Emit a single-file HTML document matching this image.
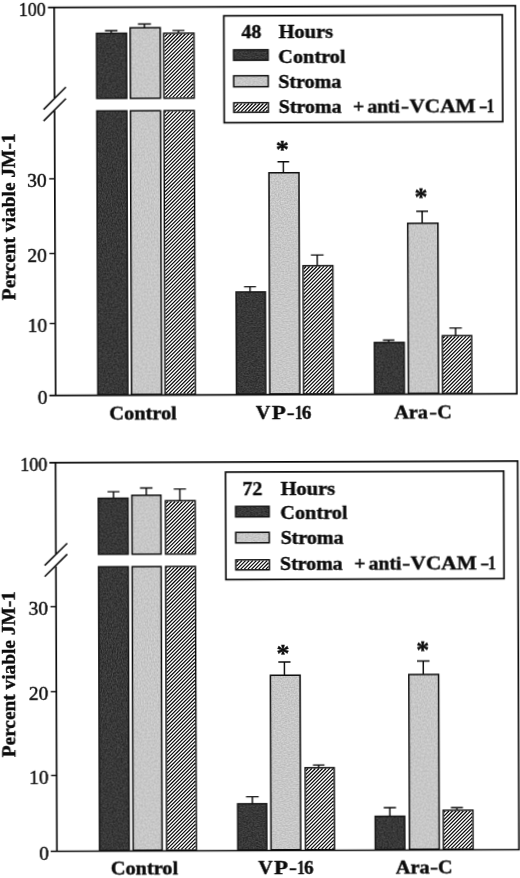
<!DOCTYPE html>
<html><head><meta charset="utf-8"><title>Percent viable JM-1</title>
<style>
html,body{margin:0;padding:0;background:#fff;}
body{width:520px;height:878px;overflow:hidden;}
svg{display:block;}
text{font-family:"Liberation Serif",serif;fill:#0c0c0c;stroke:#0c0c0c;stroke-width:0.42px;}
</style></head><body>
<svg width="520" height="878" viewBox="0 0 520 878">
<rect width="520" height="878" fill="#fff"/>
<defs>
<filter id="soft" x="-10" y="-10" width="540" height="898" filterUnits="userSpaceOnUse" color-interpolation-filters="sRGB"><feGaussianBlur stdDeviation="0.27"/></filter>
<filter id="nd" x="0" y="0" width="100%" height="100%" color-interpolation-filters="sRGB">
<feTurbulence type="fractalNoise" baseFrequency="0.8" numOctaves="2" seed="3" result="n"/>
<feColorMatrix in="n" type="matrix" values="1 0 0 0 0  1 0 0 0 0  1 0 0 0 0  0 0 0 0 1" result="g"/>
<feComposite in="SourceGraphic" in2="g" operator="arithmetic" k1="0" k2="1" k3="0.34" k4="-0.17" result="m"/>
<feComposite in="m" in2="SourceGraphic" operator="in"/>
</filter>
<filter id="nl" x="0" y="0" width="100%" height="100%" color-interpolation-filters="sRGB">
<feTurbulence type="fractalNoise" baseFrequency="0.7" numOctaves="1" seed="8" result="n"/>
<feColorMatrix in="n" type="matrix" values="1 0 0 0 0  1 0 0 0 0  1 0 0 0 0  0 0 0 0 1" result="g"/>
<feComposite in="SourceGraphic" in2="g" operator="arithmetic" k1="0" k2="1" k3="0.26" k4="-0.125" result="m"/>
<feComposite in="m" in2="SourceGraphic" operator="in"/>
</filter>
</defs>
<g transform="rotate(-0.212 285 200)"><g filter="url(#soft)">
<path d="M48.65 6.65H516.10V394.65H48.65" stroke="#0c0c0c" stroke-width="1.7" fill="none"/>
<path d="M54.85 6.65V97.20M54.85 109.60V394.65" stroke="#0c0c0c" stroke-width="1.7" fill="none"/>
<path d="M43.90 108.60L66.30 86.30" stroke="#0c0c0c" stroke-width="1.55" fill="none"/>
<path d="M43.90 120.10L66.30 97.80" stroke="#0c0c0c" stroke-width="1.55" fill="none"/>
<text x="46.60" y="14.65" font-size="18.3" stroke-width="0" text-anchor="end" textLength="27.00" lengthAdjust="spacingAndGlyphs">100</text>
<path d="M49.25 177.90H54.85" stroke="#0c0c0c" stroke-width="1.4" fill="none"/>
<text x="46.60" y="185.90" font-size="18.3" stroke-width="0" text-anchor="end" textLength="19.40" lengthAdjust="spacingAndGlyphs">30</text>
<path d="M49.25 252.60H54.85" stroke="#0c0c0c" stroke-width="1.4" fill="none"/>
<text x="46.60" y="260.60" font-size="18.3" stroke-width="0" text-anchor="end" textLength="19.40" lengthAdjust="spacingAndGlyphs">20</text>
<path d="M49.25 322.60H54.85" stroke="#0c0c0c" stroke-width="1.4" fill="none"/>
<text x="46.60" y="330.60" font-size="18.3" stroke-width="0" text-anchor="end" textLength="19.40" lengthAdjust="spacingAndGlyphs">10</text>
<text x="46.60" y="402.65" font-size="18.3" stroke-width="0" text-anchor="end" textLength="9.70" lengthAdjust="spacingAndGlyphs">0</text>
<rect x="97.15" y="32.65" width="30.00" height="65.10" fill="#383838" filter="url(#nd)"/><rect x="97.15" y="32.65" width="30.00" height="65.10" fill="none" stroke="#161616" stroke-width="1.5"/>
<rect x="97.15" y="110.25" width="30.00" height="283.65" fill="#383838" filter="url(#nd)"/><rect x="97.15" y="110.25" width="30.00" height="283.65" fill="none" stroke="#161616" stroke-width="1.5"/>
<rect x="130.75" y="27.25" width="30.10" height="70.50" fill="#c6c6c6" filter="url(#nl)"/><rect x="130.75" y="27.25" width="30.10" height="70.50" fill="none" stroke="#0c0c0c" stroke-width="1.5"/>
<rect x="130.75" y="110.25" width="30.10" height="283.65" fill="#c6c6c6" filter="url(#nl)"/><rect x="130.75" y="110.25" width="30.10" height="283.65" fill="none" stroke="#0c0c0c" stroke-width="1.5"/>
<rect x="164.35" y="32.85" width="30.20" height="64.90" fill="#fff"/><rect x="164.35" y="32.85" width="30.20" height="64.90" fill="none" stroke="#0c0c0c" stroke-width="1.5"/>
<rect x="164.35" y="110.25" width="30.20" height="283.65" fill="#fff"/><rect x="164.35" y="110.25" width="30.20" height="283.65" fill="none" stroke="#0c0c0c" stroke-width="1.5"/>
<rect x="235.75" y="291.85" width="29.30" height="102.05" fill="#383838" filter="url(#nd)"/><rect x="235.75" y="291.85" width="29.30" height="102.05" fill="none" stroke="#161616" stroke-width="1.5"/>
<rect x="269.05" y="172.75" width="30.00" height="221.15" fill="#c6c6c6" filter="url(#nl)"/><rect x="269.05" y="172.75" width="30.00" height="221.15" fill="none" stroke="#0c0c0c" stroke-width="1.5"/>
<rect x="302.85" y="265.85" width="29.70" height="128.05" fill="#fff"/><rect x="302.85" y="265.85" width="29.70" height="128.05" fill="none" stroke="#0c0c0c" stroke-width="1.5"/>
<rect x="373.85" y="342.85" width="29.80" height="51.05" fill="#383838" filter="url(#nd)"/><rect x="373.85" y="342.85" width="29.80" height="51.05" fill="none" stroke="#161616" stroke-width="1.5"/>
<rect x="407.65" y="223.75" width="30.20" height="170.15" fill="#c6c6c6" filter="url(#nl)"/><rect x="407.65" y="223.75" width="30.20" height="170.15" fill="none" stroke="#0c0c0c" stroke-width="1.5"/>
<rect x="441.85" y="336.35" width="29.30" height="57.55" fill="#fff"/><rect x="441.85" y="336.35" width="29.30" height="57.55" fill="none" stroke="#0c0c0c" stroke-width="1.5"/>
<path d="M105.60 29.90H118.10M111.85 29.90V32.40" stroke="#0c0c0c" stroke-width="1.45" fill="none"/>
<path d="M138.60 23.50H151.60M145.10 23.50V27.00" stroke="#0c0c0c" stroke-width="1.45" fill="none"/>
<path d="M173.10 30.10H185.10M179.10 30.10V32.60" stroke="#0c0c0c" stroke-width="1.45" fill="none"/>
<path d="M243.70 286.60H255.70M249.70 286.60V291.60" stroke="#0c0c0c" stroke-width="1.45" fill="none"/>
<path d="M277.60 161.70H289.30M283.45 161.70V172.50" stroke="#0c0c0c" stroke-width="1.45" fill="none"/>
<path d="M310.70 255.10H323.40M317.05 255.10V265.60" stroke="#0c0c0c" stroke-width="1.45" fill="none"/>
<path d="M382.40 340.40H393.90M388.15 340.40V342.60" stroke="#0c0c0c" stroke-width="1.45" fill="none"/>
<path d="M416.20 211.70H428.00M422.10 211.70V223.50" stroke="#0c0c0c" stroke-width="1.45" fill="none"/>
<path d="M448.90 328.60H461.40M455.15 328.60V336.10" stroke="#0c0c0c" stroke-width="1.45" fill="none"/>
<text x="282.50" y="157.70" font-size="26" font-weight="bold" text-anchor="middle" stroke-width="0">*</text>
<text x="420.90" y="206.10" font-size="26" font-weight="bold" text-anchor="middle" stroke-width="0">*</text>
<rect x="224.50" y="15.60" width="278.50" height="106.90" fill="#fff" stroke="#0c0c0c" stroke-width="1.7"/>
<rect x="234.15" y="49.65" width="34.50" height="10.50" fill="#383838" filter="url(#nd)"/><rect x="234.15" y="49.65" width="34.50" height="10.50" fill="none" stroke="#161616" stroke-width="1.5"/>
<rect x="234.15" y="75.65" width="34.50" height="11.00" fill="#c6c6c6" filter="url(#nl)"/><rect x="234.15" y="75.65" width="34.50" height="11.00" fill="none" stroke="#0c0c0c" stroke-width="1.5"/>
<rect x="234.15" y="102.65" width="34.50" height="9.50" fill="#fff"/><rect x="234.15" y="102.65" width="34.50" height="9.50" fill="none" stroke="#0c0c0c" stroke-width="1.5"/>
<text x="242.00" y="38.00" font-size="19.4" font-weight="bold" text-anchor="start" textLength="20.00" lengthAdjust="spacingAndGlyphs">48</text>
<text x="279.20" y="38.00" font-size="19.4" font-weight="bold" text-anchor="start" textLength="54.50" lengthAdjust="spacingAndGlyphs">Hours</text>
<text x="278.80" y="62.90" font-size="19.4" font-weight="bold" text-anchor="start" textLength="67.30" lengthAdjust="spacingAndGlyphs">Control</text>
<text x="278.70" y="88.20" font-size="19.4" font-weight="bold" text-anchor="start" textLength="63.20" lengthAdjust="spacingAndGlyphs">Stroma</text>
<text x="279.10" y="113.30" font-size="19.4" font-weight="bold" text-anchor="start" textLength="62.80" lengthAdjust="spacingAndGlyphs">Stroma</text>
<text x="353.20" y="113.30" font-size="19.4" font-weight="bold" text-anchor="start" textLength="11.40" lengthAdjust="spacingAndGlyphs">+</text>
<text x="367.70" y="113.30" font-size="19.4" font-weight="bold" text-anchor="start" textLength="32.60" lengthAdjust="spacingAndGlyphs">anti</text>
<text x="401.20" y="113.30" font-size="19.4" font-weight="bold" text-anchor="start" textLength="8.10" lengthAdjust="spacingAndGlyphs">-</text>
<text x="409.70" y="113.30" font-size="19.4" font-weight="bold" text-anchor="start" textLength="66.20" lengthAdjust="spacingAndGlyphs">VCAM</text>
<text x="479.30" y="113.30" font-size="19.4" font-weight="bold" text-anchor="start" textLength="8.66" lengthAdjust="spacingAndGlyphs">-</text>
<text x="487.10" y="113.30" font-size="19.4" font-weight="bold" text-anchor="start" textLength="7.60" lengthAdjust="spacingAndGlyphs">1</text>
<text x="108.60" y="419.30" font-size="19.4" font-weight="bold" text-anchor="start" textLength="67.40" lengthAdjust="spacingAndGlyphs">Control</text>
<text x="255.10" y="419.30" font-size="19.4" font-weight="bold" text-anchor="start" textLength="14.44" lengthAdjust="spacingAndGlyphs">V</text>
<text x="270.90" y="419.30" font-size="19.4" font-weight="bold" text-anchor="start" textLength="14.00" lengthAdjust="spacingAndGlyphs">P</text>
<text x="286.00" y="419.30" font-size="19.4" font-weight="bold" text-anchor="start" textLength="7.80" lengthAdjust="spacingAndGlyphs">-</text>
<text x="294.30" y="419.30" font-size="19.4" font-weight="bold" text-anchor="start" textLength="7.40" lengthAdjust="spacingAndGlyphs">1</text>
<text x="300.90" y="419.30" font-size="19.4" font-weight="bold" text-anchor="start" textLength="9.60" lengthAdjust="spacingAndGlyphs">6</text>
<text x="393.40" y="419.30" font-size="19.4" font-weight="bold" text-anchor="start" textLength="33.60" lengthAdjust="spacingAndGlyphs">Ara</text>
<text x="428.60" y="419.30" font-size="19.4" font-weight="bold" text-anchor="start" textLength="7.60" lengthAdjust="spacingAndGlyphs">-</text>
<text x="436.60" y="419.30" font-size="19.4" font-weight="bold" text-anchor="start" textLength="14.44" lengthAdjust="spacingAndGlyphs">C</text>
<text transform="translate(14.50 215.80) rotate(-90)" font-size="19.4" font-weight="bold" text-anchor="middle" textLength="166.7" lengthAdjust="spacingAndGlyphs">Percent viable JM-1</text>
</g>
<path d="M165.10 36.50L168.00 33.60M165.10 40.10L171.60 33.60M165.10 43.70L175.20 33.60M165.10 47.30L178.80 33.60M165.10 50.90L182.40 33.60M165.10 54.50L186.00 33.60M165.10 58.10L189.60 33.60M165.10 61.70L193.20 33.60M165.10 65.30L193.80 36.60M165.10 68.90L193.80 40.20M165.10 72.50L193.80 43.80M165.10 76.10L193.80 47.40M165.10 79.70L193.80 51.00M165.10 83.30L193.80 54.60M165.10 86.90L193.80 58.20M165.10 90.50L193.80 61.80M165.10 94.10L193.80 65.40M165.80 97.00L193.80 69.00M169.40 97.00L193.80 72.60M173.00 97.00L193.80 76.20M176.60 97.00L193.80 79.80M180.20 97.00L193.80 83.40M183.80 97.00L193.80 87.00M187.40 97.00L193.80 90.60M191.00 97.00L193.80 94.20" stroke="#080808" stroke-width="1.17" fill="none"/>
<path d="M165.10 112.10L166.20 111.00M165.10 115.70L169.80 111.00M165.10 119.30L173.40 111.00M165.10 122.90L177.00 111.00M165.10 126.50L180.60 111.00M165.10 130.10L184.20 111.00M165.10 133.70L187.80 111.00M165.10 137.30L191.40 111.00M165.10 140.90L193.80 112.20M165.10 144.50L193.80 115.80M165.10 148.10L193.80 119.40M165.10 151.70L193.80 123.00M165.10 155.30L193.80 126.60M165.10 158.90L193.80 130.20M165.10 162.50L193.80 133.80M165.10 166.10L193.80 137.40M165.10 169.70L193.80 141.00M165.10 173.30L193.80 144.60M165.10 176.90L193.80 148.20M165.10 180.50L193.80 151.80M165.10 184.10L193.80 155.40M165.10 187.70L193.80 159.00M165.10 191.30L193.80 162.60M165.10 194.90L193.80 166.20M165.10 198.50L193.80 169.80M165.10 202.10L193.80 173.40M165.10 205.70L193.80 177.00M165.10 209.30L193.80 180.60M165.10 212.90L193.80 184.20M165.10 216.50L193.80 187.80M165.10 220.10L193.80 191.40M165.10 223.70L193.80 195.00M165.10 227.30L193.80 198.60M165.10 230.90L193.80 202.20M165.10 234.50L193.80 205.80M165.10 238.10L193.80 209.40M165.10 241.70L193.80 213.00M165.10 245.30L193.80 216.60M165.10 248.90L193.80 220.20M165.10 252.50L193.80 223.80M165.10 256.10L193.80 227.40M165.10 259.70L193.80 231.00M165.10 263.30L193.80 234.60M165.10 266.90L193.80 238.20M165.10 270.50L193.80 241.80M165.10 274.10L193.80 245.40M165.10 277.70L193.80 249.00M165.10 281.30L193.80 252.60M165.10 284.90L193.80 256.20M165.10 288.50L193.80 259.80M165.10 292.10L193.80 263.40M165.10 295.70L193.80 267.00M165.10 299.30L193.80 270.60M165.10 302.90L193.80 274.20M165.10 306.50L193.80 277.80M165.10 310.10L193.80 281.40M165.10 313.70L193.80 285.00M165.10 317.30L193.80 288.60M165.10 320.90L193.80 292.20M165.10 324.50L193.80 295.80M165.10 328.10L193.80 299.40M165.10 331.70L193.80 303.00M165.10 335.30L193.80 306.60M165.10 338.90L193.80 310.20M165.10 342.50L193.80 313.80M165.10 346.10L193.80 317.40M165.10 349.70L193.80 321.00M165.10 353.30L193.80 324.60M165.10 356.90L193.80 328.20M165.10 360.50L193.80 331.80M165.10 364.10L193.80 335.40M165.10 367.70L193.80 339.00M165.10 371.30L193.80 342.60M165.10 374.90L193.80 346.20M165.10 378.50L193.80 349.80M165.10 382.10L193.80 353.40M165.10 385.70L193.80 357.00M165.10 389.30L193.80 360.60M165.10 392.90L193.80 364.20M168.45 393.15L193.80 367.80M172.05 393.15L193.80 371.40M175.65 393.15L193.80 375.00M179.25 393.15L193.80 378.60M182.85 393.15L193.80 382.20M186.45 393.15L193.80 385.80M190.05 393.15L193.80 389.40M193.65 393.15L193.80 393.00" stroke="#080808" stroke-width="1.17" fill="none"/>
<path d="M303.60 268.80L305.80 266.60M303.60 272.40L309.40 266.60M303.60 276.00L313.00 266.60M303.60 279.60L316.60 266.60M303.60 283.20L320.20 266.60M303.60 286.80L323.80 266.60M303.60 290.40L327.40 266.60M303.60 294.00L331.00 266.60M303.60 297.60L331.80 269.40M303.60 301.20L331.80 273.00M303.60 304.80L331.80 276.60M303.60 308.40L331.80 280.20M303.60 312.00L331.80 283.80M303.60 315.60L331.80 287.40M303.60 319.20L331.80 291.00M303.60 322.80L331.80 294.60M303.60 326.40L331.80 298.20M303.60 330.00L331.80 301.80M303.60 333.60L331.80 305.40M303.60 337.20L331.80 309.00M303.60 340.80L331.80 312.60M303.60 344.40L331.80 316.20M303.60 348.00L331.80 319.80M303.60 351.60L331.80 323.40M303.60 355.20L331.80 327.00M303.60 358.80L331.80 330.60M303.60 362.40L331.80 334.20M303.60 366.00L331.80 337.80M303.60 369.60L331.80 341.40M303.60 373.20L331.80 345.00M303.60 376.80L331.80 348.60M303.60 380.40L331.80 352.20M303.60 384.00L331.80 355.80M303.60 387.60L331.80 359.40M303.60 391.20L331.80 363.00M305.25 393.15L331.80 366.60M308.85 393.15L331.80 370.20M312.45 393.15L331.80 373.80M316.05 393.15L331.80 377.40M319.65 393.15L331.80 381.00M323.25 393.15L331.80 384.60M326.85 393.15L331.80 388.20M330.45 393.15L331.80 391.80" stroke="#080808" stroke-width="1.17" fill="none"/>
<path d="M442.60 338.60L444.10 337.10M442.60 342.20L447.70 337.10M442.60 345.80L451.30 337.10M442.60 349.40L454.90 337.10M442.60 353.00L458.50 337.10M442.60 356.60L462.10 337.10M442.60 360.20L465.70 337.10M442.60 363.80L469.30 337.10M442.60 367.40L470.40 339.60M442.60 371.00L470.40 343.20M442.60 374.60L470.40 346.80M442.60 378.20L470.40 350.40M442.60 381.80L470.40 354.00M442.60 385.40L470.40 357.60M442.60 389.00L470.40 361.20M442.60 392.60L470.40 364.80M445.65 393.15L470.40 368.40M449.25 393.15L470.40 372.00M452.85 393.15L470.40 375.60M456.45 393.15L470.40 379.20M460.05 393.15L470.40 382.80M463.65 393.15L470.40 386.40M467.25 393.15L470.40 390.00" stroke="#080808" stroke-width="1.17" fill="none"/>
<path d="M234.90 103.50L235.00 103.40M234.90 107.10L238.60 103.40M234.90 110.70L242.20 103.40M237.80 111.40L245.80 103.40M241.40 111.40L249.40 103.40M245.00 111.40L253.00 103.40M248.60 111.40L256.60 103.40M252.20 111.40L260.20 103.40M255.80 111.40L263.80 103.40M259.40 111.40L267.40 103.40M263.00 111.40L267.90 106.50M266.60 111.40L267.90 110.10" stroke="#080808" stroke-width="1.17" fill="none"/>
</g>
<g transform="rotate(-0.2 287 656)"><g filter="url(#soft)">
<path d="M50.05 461.85H518.35V850.50H50.05" stroke="#0c0c0c" stroke-width="1.7" fill="none"/>
<path d="M56.25 461.85V553.40M56.25 565.40V850.50" stroke="#0c0c0c" stroke-width="1.7" fill="none"/>
<path d="M45.00 564.60L67.60 542.50" stroke="#0c0c0c" stroke-width="1.55" fill="none"/>
<path d="M45.00 575.80L67.60 553.40" stroke="#0c0c0c" stroke-width="1.55" fill="none"/>
<text x="48.10" y="469.85" font-size="18.3" stroke-width="0" text-anchor="end" textLength="27.00" lengthAdjust="spacingAndGlyphs">100</text>
<path d="M50.65 605.80H56.25" stroke="#0c0c0c" stroke-width="1.4" fill="none"/>
<text x="48.10" y="613.80" font-size="18.3" stroke-width="0" text-anchor="end" textLength="19.40" lengthAdjust="spacingAndGlyphs">30</text>
<path d="M50.65 690.80H56.25" stroke="#0c0c0c" stroke-width="1.4" fill="none"/>
<text x="48.10" y="698.80" font-size="18.3" stroke-width="0" text-anchor="end" textLength="19.40" lengthAdjust="spacingAndGlyphs">20</text>
<path d="M50.65 774.60H56.25" stroke="#0c0c0c" stroke-width="1.4" fill="none"/>
<text x="48.10" y="782.60" font-size="18.3" stroke-width="0" text-anchor="end" textLength="19.40" lengthAdjust="spacingAndGlyphs">10</text>
<text x="48.10" y="858.50" font-size="18.3" stroke-width="0" text-anchor="end" textLength="9.70" lengthAdjust="spacingAndGlyphs">0</text>
<rect x="98.85" y="497.65" width="29.70" height="56.00" fill="#383838" filter="url(#nd)"/><rect x="98.85" y="497.65" width="29.70" height="56.00" fill="none" stroke="#161616" stroke-width="1.5"/>
<rect x="98.85" y="566.15" width="29.70" height="283.60" fill="#383838" filter="url(#nd)"/><rect x="98.85" y="566.15" width="29.70" height="283.60" fill="none" stroke="#161616" stroke-width="1.5"/>
<rect x="132.45" y="494.75" width="29.00" height="58.90" fill="#c6c6c6" filter="url(#nl)"/><rect x="132.45" y="494.75" width="29.00" height="58.90" fill="none" stroke="#0c0c0c" stroke-width="1.5"/>
<rect x="132.45" y="566.15" width="29.00" height="283.60" fill="#c6c6c6" filter="url(#nl)"/><rect x="132.45" y="566.15" width="29.00" height="283.60" fill="none" stroke="#0c0c0c" stroke-width="1.5"/>
<rect x="165.95" y="500.35" width="29.70" height="53.30" fill="#fff"/><rect x="165.95" y="500.35" width="29.70" height="53.30" fill="none" stroke="#0c0c0c" stroke-width="1.5"/>
<rect x="165.95" y="566.15" width="29.70" height="283.60" fill="#fff"/><rect x="165.95" y="566.15" width="29.70" height="283.60" fill="none" stroke="#0c0c0c" stroke-width="1.5"/>
<rect x="237.15" y="803.65" width="29.00" height="46.10" fill="#383838" filter="url(#nd)"/><rect x="237.15" y="803.65" width="29.00" height="46.10" fill="none" stroke="#161616" stroke-width="1.5"/>
<rect x="270.35" y="675.25" width="29.70" height="174.50" fill="#c6c6c6" filter="url(#nl)"/><rect x="270.35" y="675.25" width="29.70" height="174.50" fill="none" stroke="#0c0c0c" stroke-width="1.5"/>
<rect x="304.75" y="767.85" width="29.00" height="81.90" fill="#fff"/><rect x="304.75" y="767.85" width="29.00" height="81.90" fill="none" stroke="#0c0c0c" stroke-width="1.5"/>
<rect x="374.65" y="816.65" width="29.50" height="33.10" fill="#383838" filter="url(#nd)"/><rect x="374.65" y="816.65" width="29.50" height="33.10" fill="none" stroke="#161616" stroke-width="1.5"/>
<rect x="408.75" y="674.95" width="29.80" height="174.80" fill="#c6c6c6" filter="url(#nl)"/><rect x="408.75" y="674.95" width="29.80" height="174.80" fill="none" stroke="#0c0c0c" stroke-width="1.5"/>
<rect x="442.65" y="810.85" width="29.70" height="38.90" fill="#fff"/><rect x="442.65" y="810.85" width="29.70" height="38.90" fill="none" stroke="#0c0c0c" stroke-width="1.5"/>
<path d="M108.10 491.10H120.10M114.10 491.10V497.40" stroke="#0c0c0c" stroke-width="1.45" fill="none"/>
<path d="M140.60 487.50H153.10M146.85 487.50V494.50" stroke="#0c0c0c" stroke-width="1.45" fill="none"/>
<path d="M174.30 488.60H186.60M180.45 488.60V500.10" stroke="#0c0c0c" stroke-width="1.45" fill="none"/>
<path d="M245.50 796.60H258.20M251.85 796.60V803.40" stroke="#0c0c0c" stroke-width="1.45" fill="none"/>
<path d="M278.30 662.00H290.50M284.40 662.00V675.00" stroke="#0c0c0c" stroke-width="1.45" fill="none"/>
<path d="M312.60 765.10H324.10M318.35 765.10V767.60" stroke="#0c0c0c" stroke-width="1.45" fill="none"/>
<path d="M383.20 807.90H395.50M389.35 807.90V816.40" stroke="#0c0c0c" stroke-width="1.45" fill="none"/>
<path d="M417.00 661.50H429.50M423.25 661.50V674.70" stroke="#0c0c0c" stroke-width="1.45" fill="none"/>
<path d="M450.40 808.30H462.40M456.40 808.30V810.60" stroke="#0c0c0c" stroke-width="1.45" fill="none"/>
<text x="283.10" y="661.60" font-size="26" font-weight="bold" text-anchor="middle" stroke-width="0">*</text>
<text x="422.80" y="659.40" font-size="26" font-weight="bold" text-anchor="middle" stroke-width="0">*</text>
<rect x="226.20" y="471.90" width="278.10" height="107.50" fill="#fff" stroke="#0c0c0c" stroke-width="1.7"/>
<rect x="236.15" y="506.25" width="33.50" height="10.50" fill="#383838" filter="url(#nd)"/><rect x="236.15" y="506.25" width="33.50" height="10.50" fill="none" stroke="#161616" stroke-width="1.5"/>
<rect x="236.15" y="532.25" width="33.50" height="10.50" fill="#c6c6c6" filter="url(#nl)"/><rect x="236.15" y="532.25" width="33.50" height="10.50" fill="none" stroke="#0c0c0c" stroke-width="1.5"/>
<rect x="236.15" y="559.75" width="33.50" height="10.00" fill="#fff"/><rect x="236.15" y="559.75" width="33.50" height="10.00" fill="none" stroke="#0c0c0c" stroke-width="1.5"/>
<text x="242.90" y="495.00" font-size="19.4" font-weight="bold" text-anchor="start" textLength="20.00" lengthAdjust="spacingAndGlyphs">72</text>
<text x="281.20" y="495.00" font-size="19.4" font-weight="bold" text-anchor="start" textLength="54.50" lengthAdjust="spacingAndGlyphs">Hours</text>
<text x="280.80" y="519.00" font-size="19.4" font-weight="bold" text-anchor="start" textLength="67.30" lengthAdjust="spacingAndGlyphs">Control</text>
<text x="280.90" y="544.50" font-size="19.4" font-weight="bold" text-anchor="start" textLength="63.20" lengthAdjust="spacingAndGlyphs">Stroma</text>
<text x="280.30" y="570.20" font-size="19.4" font-weight="bold" text-anchor="start" textLength="62.80" lengthAdjust="spacingAndGlyphs">Stroma</text>
<text x="354.60" y="570.20" font-size="19.4" font-weight="bold" text-anchor="start" textLength="11.40" lengthAdjust="spacingAndGlyphs">+</text>
<text x="369.00" y="570.20" font-size="19.4" font-weight="bold" text-anchor="start" textLength="32.60" lengthAdjust="spacingAndGlyphs">anti</text>
<text x="402.50" y="570.20" font-size="19.4" font-weight="bold" text-anchor="start" textLength="8.10" lengthAdjust="spacingAndGlyphs">-</text>
<text x="410.80" y="570.20" font-size="19.4" font-weight="bold" text-anchor="start" textLength="66.20" lengthAdjust="spacingAndGlyphs">VCAM</text>
<text x="480.70" y="570.20" font-size="19.4" font-weight="bold" text-anchor="start" textLength="8.66" lengthAdjust="spacingAndGlyphs">-</text>
<text x="488.50" y="570.20" font-size="19.4" font-weight="bold" text-anchor="start" textLength="7.60" lengthAdjust="spacingAndGlyphs">1</text>
<text x="110.00" y="874.30" font-size="19.4" font-weight="bold" text-anchor="start" textLength="67.40" lengthAdjust="spacingAndGlyphs">Control</text>
<text x="257.40" y="874.30" font-size="19.4" font-weight="bold" text-anchor="start" textLength="14.44" lengthAdjust="spacingAndGlyphs">V</text>
<text x="273.20" y="874.30" font-size="19.4" font-weight="bold" text-anchor="start" textLength="14.00" lengthAdjust="spacingAndGlyphs">P</text>
<text x="288.30" y="874.30" font-size="19.4" font-weight="bold" text-anchor="start" textLength="7.80" lengthAdjust="spacingAndGlyphs">-</text>
<text x="296.60" y="874.30" font-size="19.4" font-weight="bold" text-anchor="start" textLength="7.40" lengthAdjust="spacingAndGlyphs">1</text>
<text x="303.20" y="874.30" font-size="19.4" font-weight="bold" text-anchor="start" textLength="9.60" lengthAdjust="spacingAndGlyphs">6</text>
<text x="395.00" y="874.30" font-size="19.4" font-weight="bold" text-anchor="start" textLength="33.80" lengthAdjust="spacingAndGlyphs">Ara</text>
<text x="429.30" y="874.30" font-size="19.4" font-weight="bold" text-anchor="start" textLength="8.00" lengthAdjust="spacingAndGlyphs">-</text>
<text x="437.30" y="874.30" font-size="19.4" font-weight="bold" text-anchor="start" textLength="14.44" lengthAdjust="spacingAndGlyphs">C</text>
<text transform="translate(14.60 673.25) rotate(-90)" font-size="19.4" font-weight="bold" text-anchor="middle" textLength="166.0" lengthAdjust="spacingAndGlyphs">Percent viable JM-1</text>
</g>
<path d="M166.70 502.90L168.50 501.10M166.70 506.50L172.10 501.10M166.70 510.10L175.70 501.10M166.70 513.70L179.30 501.10M166.70 517.30L182.90 501.10M166.70 520.90L186.50 501.10M166.70 524.50L190.10 501.10M166.70 528.10L193.70 501.10M166.70 531.70L194.90 503.50M166.70 535.30L194.90 507.10M166.70 538.90L194.90 510.70M166.70 542.50L194.90 514.30M166.70 546.10L194.90 517.90M166.70 549.70L194.90 521.50M167.10 552.90L194.90 525.10M170.70 552.90L194.90 528.70M174.30 552.90L194.90 532.30M177.90 552.90L194.90 535.90M181.50 552.90L194.90 539.50M185.10 552.90L194.90 543.10M188.70 552.90L194.90 546.70M192.30 552.90L194.90 550.30" stroke="#080808" stroke-width="1.17" fill="none"/>
<path d="M166.70 567.70L167.50 566.90M166.70 571.30L171.10 566.90M166.70 574.90L174.70 566.90M166.70 578.50L178.30 566.90M166.70 582.10L181.90 566.90M166.70 585.70L185.50 566.90M166.70 589.30L189.10 566.90M166.70 592.90L192.70 566.90M166.70 596.50L194.90 568.30M166.70 600.10L194.90 571.90M166.70 603.70L194.90 575.50M166.70 607.30L194.90 579.10M166.70 610.90L194.90 582.70M166.70 614.50L194.90 586.30M166.70 618.10L194.90 589.90M166.70 621.70L194.90 593.50M166.70 625.30L194.90 597.10M166.70 628.90L194.90 600.70M166.70 632.50L194.90 604.30M166.70 636.10L194.90 607.90M166.70 639.70L194.90 611.50M166.70 643.30L194.90 615.10M166.70 646.90L194.90 618.70M166.70 650.50L194.90 622.30M166.70 654.10L194.90 625.90M166.70 657.70L194.90 629.50M166.70 661.30L194.90 633.10M166.70 664.90L194.90 636.70M166.70 668.50L194.90 640.30M166.70 672.10L194.90 643.90M166.70 675.70L194.90 647.50M166.70 679.30L194.90 651.10M166.70 682.90L194.90 654.70M166.70 686.50L194.90 658.30M166.70 690.10L194.90 661.90M166.70 693.70L194.90 665.50M166.70 697.30L194.90 669.10M166.70 700.90L194.90 672.70M166.70 704.50L194.90 676.30M166.70 708.10L194.90 679.90M166.70 711.70L194.90 683.50M166.70 715.30L194.90 687.10M166.70 718.90L194.90 690.70M166.70 722.50L194.90 694.30M166.70 726.10L194.90 697.90M166.70 729.70L194.90 701.50M166.70 733.30L194.90 705.10M166.70 736.90L194.90 708.70M166.70 740.50L194.90 712.30M166.70 744.10L194.90 715.90M166.70 747.70L194.90 719.50M166.70 751.30L194.90 723.10M166.70 754.90L194.90 726.70M166.70 758.50L194.90 730.30M166.70 762.10L194.90 733.90M166.70 765.70L194.90 737.50M166.70 769.30L194.90 741.10M166.70 772.90L194.90 744.70M166.70 776.50L194.90 748.30M166.70 780.10L194.90 751.90M166.70 783.70L194.90 755.50M166.70 787.30L194.90 759.10M166.70 790.90L194.90 762.70M166.70 794.50L194.90 766.30M166.70 798.10L194.90 769.90M166.70 801.70L194.90 773.50M166.70 805.30L194.90 777.10M166.70 808.90L194.90 780.70M166.70 812.50L194.90 784.30M166.70 816.10L194.90 787.90M166.70 819.70L194.90 791.50M166.70 823.30L194.90 795.10M166.70 826.90L194.90 798.70M166.70 830.50L194.90 802.30M166.70 834.10L194.90 805.90M166.70 837.70L194.90 809.50M166.70 841.30L194.90 813.10M166.70 844.90L194.90 816.70M166.70 848.50L194.90 820.30M169.80 849.00L194.90 823.90M173.40 849.00L194.90 827.50M177.00 849.00L194.90 831.10M180.60 849.00L194.90 834.70M184.20 849.00L194.90 838.30M187.80 849.00L194.90 841.90M191.40 849.00L194.90 845.50" stroke="#080808" stroke-width="1.17" fill="none"/>
<path d="M305.50 770.90L307.80 768.60M305.50 774.50L311.40 768.60M305.50 778.10L315.00 768.60M305.50 781.70L318.60 768.60M305.50 785.30L322.20 768.60M305.50 788.90L325.80 768.60M305.50 792.50L329.40 768.60M305.50 796.10L333.00 768.60M305.50 799.70L333.00 772.20M305.50 803.30L333.00 775.80M305.50 806.90L333.00 779.40M305.50 810.50L333.00 783.00M305.50 814.10L333.00 786.60M305.50 817.70L333.00 790.20M305.50 821.30L333.00 793.80M305.50 824.90L333.00 797.40M305.50 828.50L333.00 801.00M305.50 832.10L333.00 804.60M305.50 835.70L333.00 808.20M305.50 839.30L333.00 811.80M305.50 842.90L333.00 815.40M305.50 846.50L333.00 819.00M306.60 849.00L333.00 822.60M310.20 849.00L333.00 826.20M313.80 849.00L333.00 829.80M317.40 849.00L333.00 833.40M321.00 849.00L333.00 837.00M324.60 849.00L333.00 840.60M328.20 849.00L333.00 844.20M331.80 849.00L333.00 847.80" stroke="#080808" stroke-width="1.17" fill="none"/>
<path d="M443.40 813.00L444.80 811.60M443.40 816.60L448.40 811.60M443.40 820.20L452.00 811.60M443.40 823.80L455.60 811.60M443.40 827.40L459.20 811.60M443.40 831.00L462.80 811.60M443.40 834.60L466.40 811.60M443.40 838.20L470.00 811.60M443.40 841.80L471.60 813.60M443.40 845.40L471.60 817.20M443.40 849.00L471.60 820.80M447.00 849.00L471.60 824.40M450.60 849.00L471.60 828.00M454.20 849.00L471.60 831.60M457.80 849.00L471.60 835.20M461.40 849.00L471.60 838.80M465.00 849.00L471.60 842.40M468.60 849.00L471.60 846.00" stroke="#080808" stroke-width="1.17" fill="none"/>
<path d="M236.90 562.30L238.70 560.50M236.90 565.90L242.30 560.50M237.40 569.00L245.90 560.50M241.00 569.00L249.50 560.50M244.60 569.00L253.10 560.50M248.20 569.00L256.70 560.50M251.80 569.00L260.30 560.50M255.40 569.00L263.90 560.50M259.00 569.00L267.50 560.50M262.60 569.00L268.90 562.70M266.20 569.00L268.90 566.30" stroke="#080808" stroke-width="1.17" fill="none"/>
</g>
</svg>
</body></html>
